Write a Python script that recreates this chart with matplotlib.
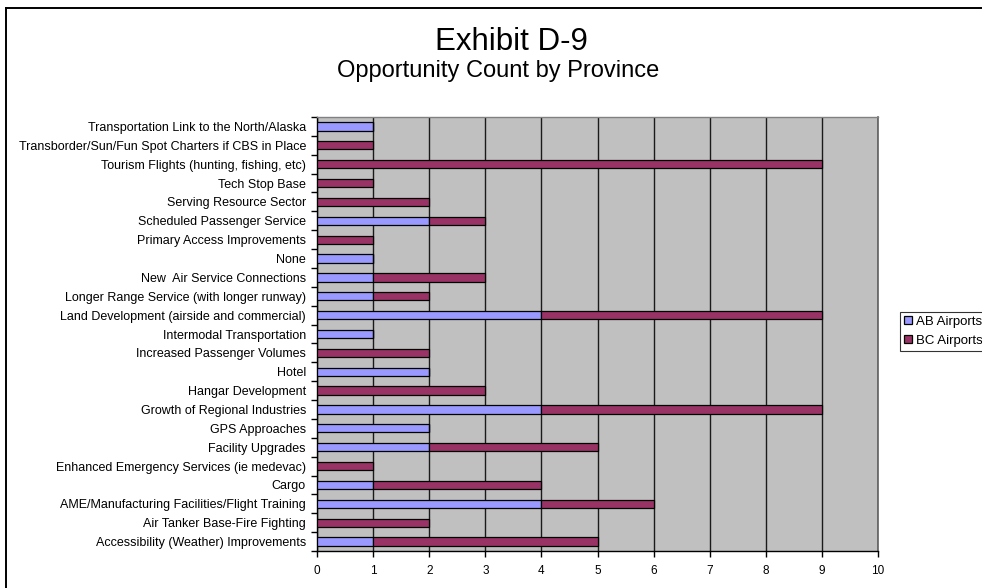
import matplotlib
matplotlib.use("Agg")
import matplotlib.pyplot as plt
from matplotlib.lines import Line2D
import numpy as np

plt.rcParams['font.family'] = ['Liberation Sans', 'DejaVu Sans']

# Categories listed bottom-to-top
categories = [
    "Accessibility (Weather) Improvements",
    "Air Tanker Base-Fire Fighting",
    "AME/Manufacturing Facilities/Flight Training",
    "Cargo",
    "Enhanced Emergency Services (ie medevac)",
    "Facility Upgrades",
    "GPS Approaches",
    "Growth of Regional Industries",
    "Hangar Development",
    "Hotel",
    "Increased Passenger Volumes",
    "Intermodal Transportation",
    "Land Development (airside and commercial)",
    "Longer Range Service (with longer runway)",
    "New  Air Service Connections",
    "None",
    "Primary Access Improvements",
    "Scheduled Passenger Service",
    "Serving Resource Sector",
    "Tech Stop Base",
    "Tourism Flights (hunting, fishing, etc)",
    "Transborder/Sun/Fun Spot Charters if CBS in Place",
    "Transportation Link to the North/Alaska",
]
ab_airports = [1, 0, 4, 1, 0, 2, 2, 4, 0, 2, 0, 1, 4, 1, 1, 1, 0, 2, 0, 0, 0, 0, 1]
bc_airports = [4, 2, 2, 3, 1, 3, 0, 5, 3, 0, 2, 0, 5, 1, 2, 0, 1, 1, 2, 1, 9, 1, 0]
series_names = ["AB Airports", "BC Airports"]
x_ticks = list(range(0, 11))

W, H = 982, 588
fig = plt.figure(figsize=(W / 100, H / 100), dpi=100)
fig.patch.set_facecolor('white')

# Chart-area border (left and top edges)
fig.add_artist(Line2D([6 / W, 6 / W], [0, 1 - 8 / H], transform=fig.transFigure,
                      color='black', lw=1.4))
fig.add_artist(Line2D([6 / W, 1], [1 - 8 / H, 1 - 8 / H], transform=fig.transFigure,
                      color='black', lw=1.4))

left, right, top, bottom = 317, 878, 117, 551
ax = fig.add_axes([left / W, 1 - bottom / H, (right - left) / W, (bottom - top) / H])
ax.set_facecolor('#C0C0C0')

y = np.arange(len(categories))
h = 0.44
ab = np.array(ab_airports)
bc = np.array(bc_airports)
ax.barh(y, ab, height=h, color='#9999FF', edgecolor='black', linewidth=0.9,
        label=series_names[0], zorder=3)
ax.barh(y, bc, left=ab, height=h, color='#993366', edgecolor='black', linewidth=0.9,
        label=series_names[1], zorder=3)

ax.set_xlim(0, 10)
ax.set_ylim(-0.5, len(categories) - 0.5)
ax.set_xticks(x_ticks)
ax.set_xticklabels([str(t) for t in x_ticks], fontsize=8.5)
ax.xaxis.grid(True, color='#1a1a1a', linewidth=1.0, zorder=1)
ax.set_axisbelow(True)

ax.set_yticks(y)
ax.set_yticklabels(categories, fontsize=9)
ax.set_yticks(np.arange(-0.5, len(categories)), minor=True)
ax.tick_params(axis='y', which='major', length=0, pad=8)
ax.tick_params(axis='y', which='minor', length=4, width=1, color='black')
ax.tick_params(axis='x', which='major', length=4, width=1, color='black', pad=6)

for s in ['left', 'bottom']:
    ax.spines[s].set_color('black')
    ax.spines[s].set_linewidth(1.0)
ax.spines['top'].set_color('#808080')
ax.spines['top'].set_linewidth(1.0)
ax.spines['right'].set_color('#606060')
ax.spines['right'].set_linewidth(1.2)

fig.text(511 / W, 1 - 42 / H, "Exhibit D-9", ha='center', va='center', fontsize=22.5)
fig.text(498 / W, 1 - 71 / H, "Opportunity Count by Province", ha='center', va='center',
         fontsize=17)

leg = fig.legend(loc='upper left', bbox_to_anchor=(900 / W, 1 - 312 / H),
                 fontsize=9.5, frameon=True, fancybox=False, edgecolor='black',
                 handlelength=0.6, handleheight=0.6, handletextpad=0.35,
                 borderpad=0.3, labelspacing=0.5, borderaxespad=0)
leg.get_frame().set_linewidth(0.8)

fig.savefig("out.png", dpi=100)
